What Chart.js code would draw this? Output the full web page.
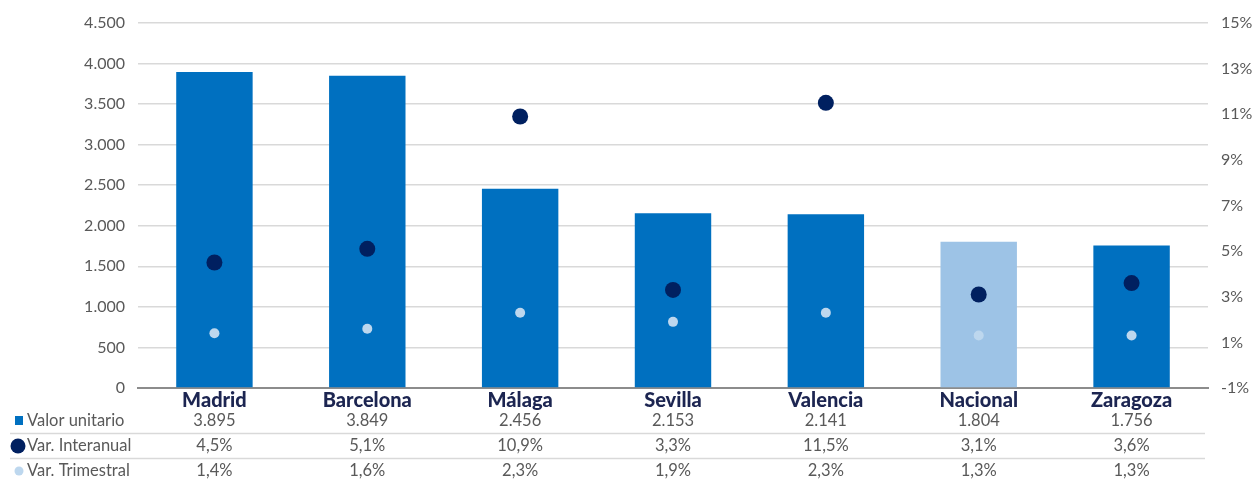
<!DOCTYPE html>
<html>
<head>
<meta charset="utf-8">
<script src="https://cdn.jsdelivr.net/npm/chart.js@4/dist/chart.umd.min.js"></script>
<style>
html,body{margin:0;padding:0;background:#fff;}
#wrap{width:1252px;height:480px;position:relative;}
</style>
</head>
<body>
<div id="wrap"><canvas id="c" width="1252" height="480"></canvas></div>
<script>
const categories = ['Madrid','Barcelona','Málaga','Sevilla','Valencia','Nacional','Zaragoza'];
const valorUnitario = [3895, 3849, 2456, 2153, 2141, 1804, 1756];
const varInteranual = [4.5, 5.1, 10.9, 3.3, 11.5, 3.1, 3.6];
const varTrimestral = [1.4, 1.6, 2.3, 1.9, 2.3, 1.3, 1.3];
const rowLabels = ['Valor unitario', 'Var. Interanual', 'Var. Trimestral'];

const FONT = 'Lato, "Open Sans", sans-serif';
const GRAY = '#595959';

function fmtThousands(v){
  return String(Math.round(v)).replace(/\B(?=(\d{3})+(?!\d))/g, '.');
}
function fmtPct(v){
  return v.toFixed(1).replace('.', ',') + '%';
}

const tablePlugin = {
  id: 'dataTable',
  afterDraw(chart){
    const ctx = chart.ctx;
    const x = chart.scales.x;
    const rowsY = [421, 446, 471];
    ctx.save();
    ctx.strokeStyle = '#d9d9d9';
    ctx.lineWidth = 1.5;
    [433.5, 458.5].forEach(y => {
      ctx.beginPath(); ctx.moveTo(10, y); ctx.lineTo(1205, y); ctx.stroke();
    });
    ctx.fillStyle = '#0070C0';
    ctx.fillRect(15, 416, 8, 9);
    ctx.fillStyle = '#002060';
    ctx.beginPath(); ctx.arc(18, 446, 7.5, 0, Math.PI*2); ctx.fill();
    ctx.fillStyle = '#BDD7EE';
    ctx.beginPath(); ctx.arc(19, 471, 4.5, 0, Math.PI*2); ctx.fill();
    ctx.font = '16.5px ' + FONT;
    ctx.fillStyle = GRAY;
    ctx.textBaseline = 'middle';
    ctx.textAlign = 'left';
    rowLabels.forEach((t, i) => ctx.fillText(t, 27, rowsY[i]));
    ctx.textAlign = 'center';
    categories.forEach((c, i) => {
      const px = x.getPixelForValue(i);
      ctx.fillText(fmtThousands(valorUnitario[i]), px, rowsY[0]);
      ctx.fillText(fmtPct(varInteranual[i]), px, rowsY[1]);
      ctx.fillText(fmtPct(varTrimestral[i]), px, rowsY[2]);
    });
    ctx.restore();
  }
};

new Chart(document.getElementById('c'), {
  type: 'bar',
  data: {
    labels: categories,
    datasets: [
      {
        type: 'line',
        label: 'Var. Trimestral',
        data: varTrimestral,
        yAxisID: 'y1',
        showLine: false,
        pointRadius: 5,
        pointBackgroundColor: '#BDD7EE',
        pointBorderWidth: 0,
        order: 0
      },
      {
        type: 'line',
        label: 'Var. Interanual',
        data: varInteranual,
        yAxisID: 'y1',
        showLine: false,
        pointRadius: 8,
        pointBackgroundColor: '#002060',
        pointBorderWidth: 0,
        order: 1
      },
      {
        type: 'bar',
        label: 'Valor unitario',
        data: valorUnitario,
        yAxisID: 'y',
        backgroundColor: ctx => categories[ctx.dataIndex] === 'Nacional' ? '#9DC3E6' : '#0070C0',
        borderWidth: 0,
        categoryPercentage: 1,
        barPercentage: 0.5,
        order: 2
      }
    ]
  },
  options: {
    responsive: false,
    animation: false,
    devicePixelRatio: 1,
    layout: { padding: { top: 23, left: 0, right: 0, bottom: 0 } },
    plugins: { legend: { display: false }, tooltip: { enabled: false } },
    scales: {
      x: {
        afterFit(s){ s.height = 92; },
        grid: { display: true, color: 'rgba(0,0,0,0)', drawTicks: false },
        border: { display: true, color: '#8c8c8c', width: 2 },
        ticks: {
          padding: 1,
          color: '#1c2551',
          font: { family: FONT, size: 20, weight: 900 },
          maxRotation: 0
        }
      },
      y: {
        position: 'left',
        min: 0, max: 4500,
        afterFit(s){ s.width = 138; },
        border: { display: false },
        grid: {
          drawTicks: false,
          color: ctx => ctx.tick && ctx.tick.value === 0 ? 'rgba(0,0,0,0)' : '#d9d9d9',
          lineWidth: 1.5
        },
        ticks: {
          stepSize: 500,
          padding: 13,
          color: GRAY,
          font: { family: FONT, size: 16 },
          callback: v => fmtThousands(v)
        }
      },
      y1: {
        position: 'right',
        min: -1, max: 15,
        afterFit(s){ s.width = 44; },
        border: { display: false },
        grid: { display: false, drawTicks: false },
        ticks: {
          stepSize: 2,
          padding: 13,
          color: GRAY,
          font: { family: FONT, size: 16 },
          callback: v => v + '%'
        }
      }
    }
  },
  plugins: [tablePlugin]
});
</script>
</body>
</html>
